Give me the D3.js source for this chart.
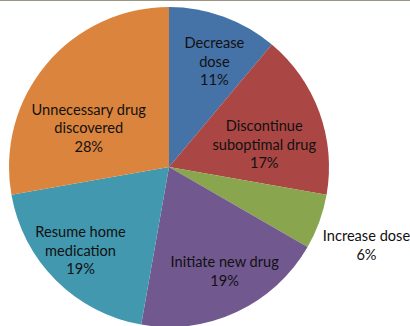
<!DOCTYPE html>
<html>
<head>
<meta charset="utf-8">
<script src="https://cdn.jsdelivr.net/npm/d3@7"></script>
<style>
html,body{margin:0;padding:0;background:#fff;}
svg{display:block;}
</style>
</head>
<body>
<svg id="chart" width="410" height="326"></svg>
<script>
// Data
const categories = ["Decrease dose", "Discontinue suboptimal drug", "Increase dose", "Initiate new drug", "Resume home medication", "Unnecessary drug discovered"];
const labelLines = [["Decrease", "dose"], ["Discontinue", "suboptimal drug"], ["Increase dose"], ["Initiate new drug"], ["Resume home", "medication"], ["Unnecessary drug", "discovered"]];
const counts = [4, 6, 2, 7, 7, 10];
const colors = ["#4572A7", "#AA4643", "#89A54E", "#71588F", "#4198AF", "#DB843D"];

// Layout
const W = 410, H = 326;
const cx = 169, cy = 167, R = 160;
const lineH = 18.5;
const labelRadiusFactor = [0.72, 0.72, 1.32, 0.72, 0.72, 0.72];
const labelNudge = [[6, 3], [-13, 17], [-1, 6], [7, 0], [-7, 2], [8, 35]];

const svg = d3.select("#chart");
svg.append("rect").attr("x", 0).attr("y", 0).attr("width", W).attr("height", 1).attr("fill", "#9c9585");

const total = d3.sum(counts);
const pie = d3.pie().sort(null).value(d => d);
const arcs = pie(counts);
const arc = d3.arc().innerRadius(0).outerRadius(R);

const g = svg.append("g").attr("transform", `translate(${cx},${cy})`);
g.selectAll("path").data(arcs).join("path")
  .attr("d", arc)
  .attr("fill", (d, i) => colors[i]);

const fmt = v => Math.round(v / total * 100) + "%";

arcs.forEach((d, i) => {
  const r = R * labelRadiusFactor[i];
  const c = d3.arc().innerRadius(r).outerRadius(r).centroid(d);
  const x = c[0] + labelNudge[i][0];
  const y = c[1] + labelNudge[i][1];
  const lines = labelLines[i].concat([fmt(counts[i])]);
  const y0 = y - (lines.length - 1) * lineH / 2;
  const t = g.append("text")
    .attr("text-anchor", "middle")
    .attr("font-family", "Lato, 'Open Sans', sans-serif")
    .attr("font-size", 14.6)
    .attr("fill", "#111");
  lines.forEach((ln, k) => {
    t.append("tspan").attr("x", x).attr("y", y0 + k * lineH).attr("dy", "0.35em").text(ln);
  });
});
</script>
</body>
</html>
